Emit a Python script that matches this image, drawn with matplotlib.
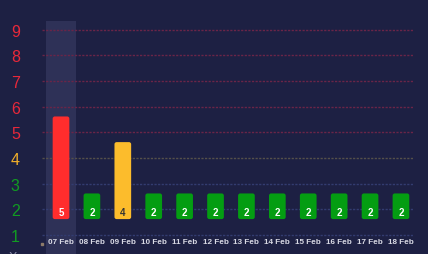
import matplotlib
matplotlib.use("Agg")
import matplotlib.pyplot as plt
from matplotlib.patches import FancyBboxPatch

# data
dates = ["07 Feb", "08 Feb", "09 Feb", "10 Feb", "11 Feb", "12 Feb",
         "13 Feb", "14 Feb", "15 Feb", "16 Feb", "17 Feb", "18 Feb"]
values = [5, 2, 4, 2, 2, 2, 2, 2, 2, 2, 2, 2]
levels = [1, 2, 3, 4, 5, 6, 7, 8, 9]

BG = "#1d2043"
RED = "#ff2d2d"
YELLOW = "#fcbc2c"
GREEN = "#049d12"


def level_color(v):
    if v >= 5:
        return RED
    if v == 4:
        return YELLOW
    return GREEN


def label_color(v):
    if v >= 5:
        return "#e8283a"
    if v == 4:
        return "#f0ae2a"
    return "#119c22"


def grid_color(v):
    if v >= 5:
        return "#6a2548"
    if v == 4:
        return "#55504a"
    return "#333c70"


plt.rcParams["font.family"] = ["Liberation Sans", "DejaVu Sans"]

fig = plt.figure(figsize=(4.28, 2.55), dpi=100, facecolor=BG)
ax = fig.add_axes([42 / 428, 0, (413 - 42) / 428, (255 - 22) / 255])
ax.set_facecolor(BG)
for s in ax.spines.values():
    s.set_visible(False)

x = list(range(len(dates)))
ax.set_xlim(-0.615, 11.39)
ax.set_ylim(0.26, 9.34)

# highlighted first day
ax.axvspan(-0.5, 0.5, color="#2e3157", zorder=0, lw=0)

for lv in levels:
    ax.axhline(lv, color=grid_color(lv), lw=1.0, ls=(0, (1.6, 1.0)), zorder=1)

base = 1.62
bars = ax.bar(x, [v - 1 for v in values], bottom=base, width=0.54,
              color=[level_color(v) for v in values], zorder=2)
for b, v in zip(bars, values):
    b.set_visible(False)
    ax.add_patch(FancyBboxPatch((b.get_x(), b.get_y()), b.get_width(), b.get_height(),
                                boxstyle="round,pad=0,rounding_size=0.07",
                                mutation_aspect=30.9 / 25.66,
                                fc=b.get_facecolor(), ec="none", zorder=2))
    ax.text(b.get_x() + b.get_width() / 2, base + 0.28, str(v),
            ha="center", va="center", fontsize=7, fontweight="bold",
            color="#333333" if v == 4 else "white", zorder=3)

for xi, d in zip(x, dates):
    ax.text(xi, 0.73, d, ha="center", va="center", fontsize=5.9,
            fontweight="bold", color="#d8d9e4", zorder=3)

ax.plot([-0.61], [0.66], marker="s", ms=1.6, color="#8c7a6a", clip_on=False, zorder=3)

ax.set_xticks([])
ax.set_yticks(levels)
ax.set_yticklabels([str(v) for v in levels], fontsize=11.5)
for t, v in zip(ax.get_yticklabels(), levels):
    t.set_color(label_color(v))
ax.tick_params(axis="y", length=0, pad=16)

fig.text(13 / 428, -3 / 255, "X", fontsize=9, color="#8a8ca8",
         ha="center", va="center")

fig.savefig("out.png", dpi=100, facecolor=BG)
